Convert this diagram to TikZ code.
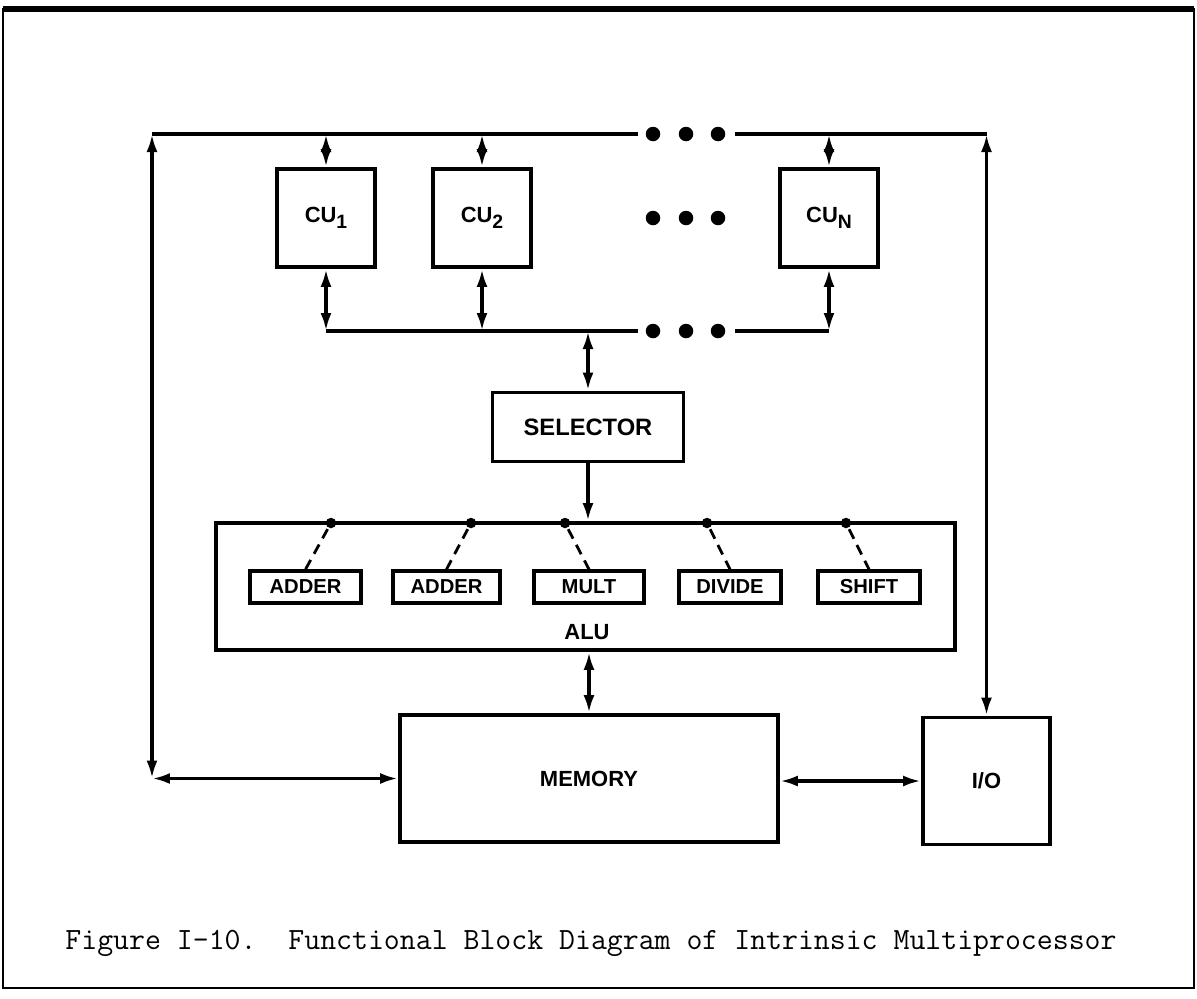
\documentclass[tikz,border=0pt]{standalone}
\usepackage{fontspec}
\newfontfamily\blockfont{Liberation Sans}
\usetikzlibrary{arrows.meta, positioning, calc}
\newcommand{\cuidx}[1]{\raisebox{-0.5ex}{\fontsize{11}{13}\selectfont #1}}

\begin{document}
\begin{tikzpicture}[
  x=0.02cm, y=-0.02cm, line width=2pt,
  blk/.style={draw, line width=2.2pt, inner sep=0pt, font=\blockfont\bfseries\fontsize{12.5}{15}\selectfont},
  unit/.style={blk, minimum height=0.64cm, line width=1.9pt, font=\blockfont\bfseries\fontsize{11.5}{13}\selectfont},
  link/.style={{Latex[length=3.6mm,width=2.2mm]}-{Latex[length=3.6mm,width=2.2mm]}},
  feed/.style={-{Latex[length=3.6mm,width=2.2mm]}},
  bigdot/.style={circle, fill, inner sep=0pt, minimum size=0.29cm},
  busdot/.style={circle, fill, inner sep=0pt, minimum size=0.21cm},
  tap/.style={dash pattern=on 6pt off 4pt, line width=1.6pt}
]
  \useasboundingbox (0,0) rectangle (1197,998);
  \draw[line width=1.4pt] (3,9) rectangle (1194,988);
  \draw[line width=3pt] (3,9) -- (1194,9);

  \node[blk, minimum width=1.96cm, minimum height=1.96cm] (cu1) at (326,218) {CU\cuidx{1}};
  \node[blk, minimum width=1.96cm, minimum height=1.96cm] (cu2) at (482,218) {CU\cuidx{2}};
  \node[blk, minimum width=1.96cm, minimum height=1.96cm] (cun) at (829,218) {CU\cuidx{N}};
  \node[blk, minimum width=3.82cm, minimum height=1.38cm, font=\blockfont\bfseries\fontsize{13.5}{15}\selectfont] (sel) at (588,427) {SELECTOR};
  \node[draw, line width=2.2pt, inner sep=0pt, minimum width=14.78cm, minimum height=2.54cm] (alu) at (585.5,586.5) {};
  \node[font=\blockfont\bfseries\fontsize{12.5}{15}\selectfont] (alulbl) at (587,632) {ALU};
  \node[blk, minimum width=7.56cm, minimum height=2.54cm] (mem) at (589,778.5) {MEMORY};
  \node[blk, minimum size=2.54cm] (io) at (986.5,781) {I/O};

  \foreach \nm/\x/\w/\t in {add1/305.5/2.22/ADDER, add2/446.5/2.14/ADDER, mult/589/2.2/MULT, div/730/2.04/DIVIDE, shft/869/2.04/SHIFT}
    \node[unit, minimum width=\w cm] (\nm) at (\x,587) {\t};

  \coordinate (tl) at (152,134);
  \coordinate (tr) at (io.north |- tl);
  \coordinate (tgap1) at (638,134);
  \coordinate (tgap2) at (735,134);
  \coordinate (bl) at (cu1.south |- 0,331);
  \coordinate (br) at (cun.south |- 0,331);
  \coordinate (bgap1) at (638,331);
  \coordinate (bgap2) at (735,331);
  \coordinate (lc) at (tl |- mem.west);

  \draw (tl) -- (tgap1);
  \draw (tgap2) -- (tr);
  \draw (bl) -- (bgap1);
  \draw (bgap2) -- (br);
  \foreach \x/\n in {653/1, 686/2, 718/3} {
    \node[bigdot] (td\n) at (\x,134) {};
    \node[bigdot] (md\n) at (\x,218) {};
    \node[bigdot] (bd\n) at (\x,331) {};
  }

  \foreach \c in {cu1, cu2, cun} {
    \draw[link] (\c.north |- tl) -- (\c.north);
    \draw[link] (\c.south) -- (\c.south |- bl);
  }
  \draw[link] (sel.north |- bl) -- (sel.north);
  \draw[feed] (sel.south) -- (sel.south |- alu.north);

  \foreach \nm/\x in {add1/331, add2/471, mult/565, div/707, shft/846} {
    \node[busdot] (p\nm) at (\x,523) {};
    \draw[tap] (p\nm) -- (\nm.north);
  }

  \draw[link] (mem.north |- alu.south) -- (mem.north);
  \draw[link] (mem.east |- io.west) -- (io.west);
  \draw[link] (lc) -- (tl);
  \draw[link] (lc) -- (mem.west);
  \draw[link] (tr) -- (io.north);

  \node[font=\ttfamily\fontsize{17.6}{20}\selectfont] (cap) at (591,943) {Figure I-10.\ \ Functional Block Diagram of Intrinsic Multiprocessor};
\end{tikzpicture}
\end{document}
